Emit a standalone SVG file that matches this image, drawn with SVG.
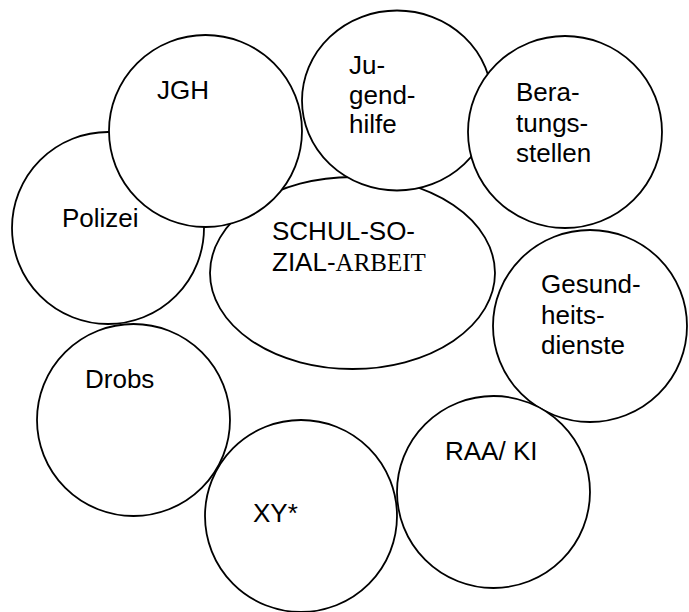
<svg xmlns="http://www.w3.org/2000/svg" width="689" height="612" viewBox="0 0 689 612">
  <style>
    .bubble { fill: #ffffff; stroke: #000000; stroke-width: 1.8; }
    .label { font-family: "Liberation Sans", Arial, sans-serif; font-size: 26px; fill: #000000; }
    .serif { font-family: "Liberation Serif", "Times New Roman", serif; font-size: 25px; }
  </style>
  <rect width="689" height="612" fill="#ffffff"/>
  <!-- no connectors: the bubbles touch and overlap each other -->
  <g id="connectors"/>

  <g id="polizei">
    <ellipse class="bubble" cx="108" cy="228" rx="96" ry="96"/>
    <text class="label" x="62" y="227">Polizei</text>
  </g>

  <g id="schulsozialarbeit">
    <ellipse class="bubble" cx="352.5" cy="273" rx="142.5" ry="96"/>
    <text class="label" x="272" y="240">SCHUL-SO-</text>
    <text class="label" x="272" y="271">ZIAL-<tspan class="serif">ARBEIT</tspan></text>
  </g>

  <g id="jgh">
    <ellipse class="bubble" cx="205.5" cy="131" rx="96.5" ry="96"/>
    <text class="label" x="157" y="99">JGH</text>
  </g>

  <g id="jugendhilfe">
    <ellipse class="bubble" cx="397" cy="100.5" rx="95" ry="90"/>
    <text class="label" x="349" y="74">Ju-</text>
    <text class="label" x="349" y="104">gend-</text>
    <text class="label" x="349" y="133">hilfe</text>
  </g>

  <g id="beratungsstellen">
    <ellipse class="bubble" cx="565" cy="132" rx="97" ry="96"/>
    <text class="label" x="516" y="101">Bera-</text>
    <text class="label" x="516" y="132">tungs-</text>
    <text class="label" x="516" y="162">stellen</text>
  </g>

  <g id="gesundheitsdienste">
    <ellipse class="bubble" cx="590" cy="326" rx="97" ry="96"/>
    <text class="label" x="541" y="293">Gesund-</text>
    <text class="label" x="541" y="324">heits-</text>
    <text class="label" x="541" y="354">dienste</text>
  </g>

  <g id="drobs">
    <ellipse class="bubble" cx="133.5" cy="420" rx="96.5" ry="96"/>
    <text class="label" x="85" y="388">Drobs</text>
  </g>

  <g id="xy">
    <ellipse class="bubble" cx="301" cy="516" rx="96" ry="96"/>
    <text class="label" x="253" y="522">XY*</text>
  </g>

  <g id="raa-ki">
    <ellipse class="bubble" cx="493.5" cy="492" rx="96.5" ry="96"/>
    <text class="label" x="445" y="460">RAA/ KI</text>
  </g>
</svg>
